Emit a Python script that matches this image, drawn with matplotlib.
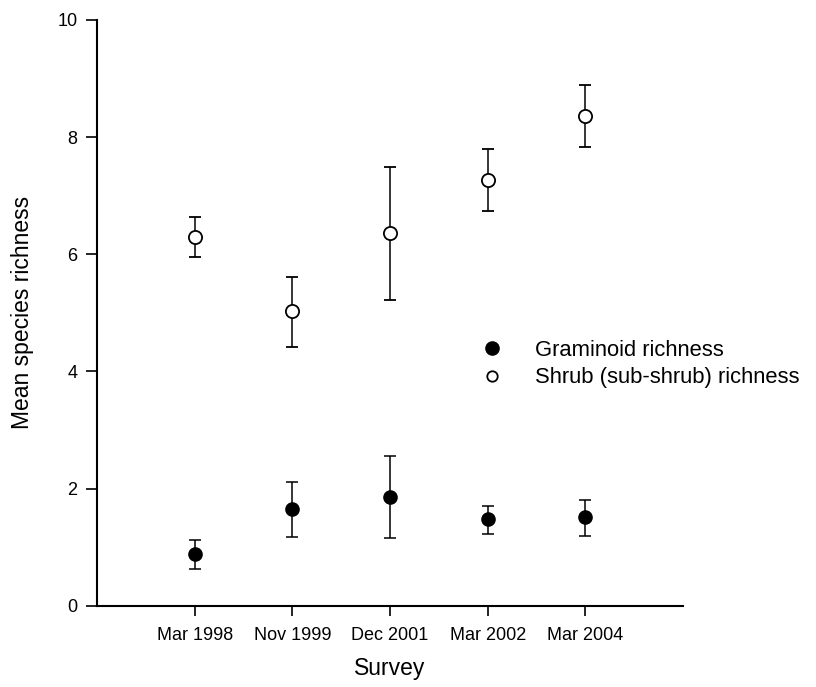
import matplotlib
matplotlib.use("Agg")
import matplotlib.pyplot as plt
import numpy as np

plt.rcParams['font.family'] = ['Liberation Sans', 'DejaVu Sans']

surveys = ["Mar 1998", "Nov 1999", "Dec 2001", "Mar 2002", "Mar 2004"]
gram_mean = [0.88, 1.645, 1.86, 1.475, 1.51]
gram_low = [0.62, 1.18, 1.15, 1.22, 1.19]
gram_high = [1.12, 2.105, 2.555, 1.70, 1.80]
shrub_mean = [6.30, 5.03, 6.37, 7.26, 8.36]
shrub_low = [5.95, 4.42, 5.22, 6.74, 7.83]
shrub_high = [6.64, 5.61, 7.49, 7.79, 8.89]

fig = plt.figure(figsize=(8.16, 6.87), dpi=100)
ax = fig.add_axes([0.1189, 0.1183, 0.837 - 0.1189, 0.9709 - 0.1183])

x = np.arange(1, len(surveys) + 1)

def err(mean, low, high):
    m = np.array(mean); return [m - np.array(low), np.array(high) - m]

ax.errorbar(x, gram_mean, yerr=err(gram_mean, gram_low, gram_high), fmt='o',
            color='black', ms=9.5, mfc='black', mec='black', ecolor='black',
            elinewidth=1.1, capsize=4.3, capthick=1.1, label='Graminoid richness', zorder=3)
ax.errorbar(x, shrub_mean, yerr=err(shrub_mean, shrub_low, shrub_high), fmt='o',
            color='black', ms=9.5, mfc='white', mec='black', mew=1.3, ecolor='black',
            elinewidth=1.1, capsize=4.3, capthick=1.1, label='Shrub (sub-shrub) richness', zorder=3)

ax.set_xlim(0, 6)
ax.set_ylim(0, 10)
ax.set_xticks(x)
ax.set_xticklabels(surveys, fontsize=13)
ax.set_yticks([0, 2, 4, 6, 8, 10])
ax.tick_params(axis='y', labelsize=13, length=8, width=1.2, pad=6)
ax.tick_params(axis='x', length=7, width=1.2, pad=8)
for s in ['top', 'right']:
    ax.spines[s].set_visible(False)
for s in ['left', 'bottom']:
    ax.spines[s].set_linewidth(1.5)

ax.set_xlabel("Survey", fontsize=16.5, labelpad=10)
ax.set_ylabel("Mean species richness", fontsize=16.5, labelpad=17)

handles, labels = ax.get_legend_handles_labels()
handles = [h[0] for h in handles]
leg = ax.legend(handles, labels, loc='upper left', bbox_to_anchor=(461 / 816, 1 - 320 / 687),
                bbox_transform=fig.transFigure, frameon=False, fontsize=15.8,
                handletextpad=1.46, labelspacing=0.3, handlelength=1.0, markerscale=0.85)
lh = leg.legend_handles
lh[0].set_markersize(9.5)
lh[1].set_markersize(7.5)

fig.savefig("out.png", dpi=100)
